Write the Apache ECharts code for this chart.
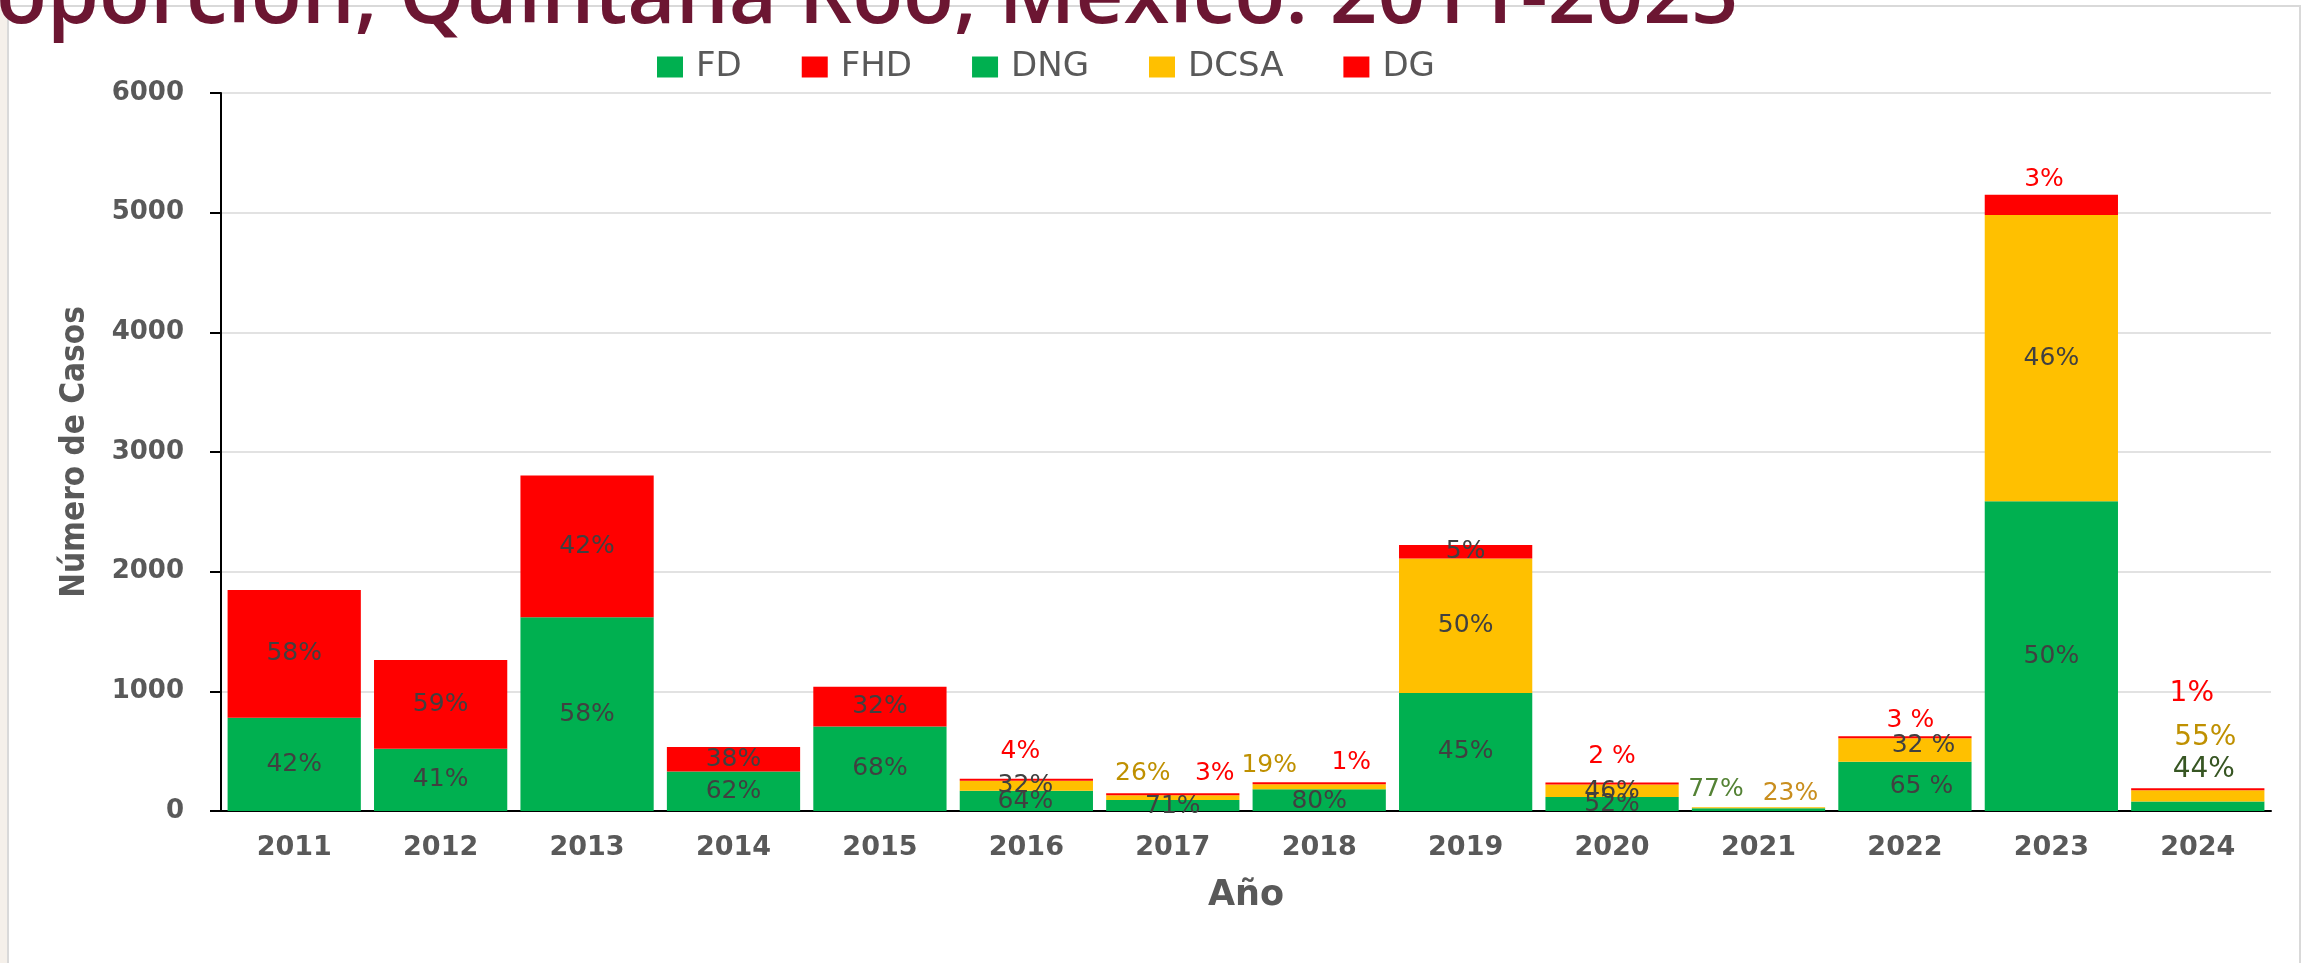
<!DOCTYPE html>
<html>
<head>
<meta charset="utf-8">
<script src="https://cdn.jsdelivr.net/npm/echarts@6/dist/echarts.min.js"></script>
<style>
  html, body { margin: 0; padding: 0; background: #fff; }
  #chart { width: 2307px; height: 963px; }
</style>
</head>
<body>
<div id="chart"></div>
<script>
/* Casos por clasificación y año — barras apiladas, etiquetas de proporción */
const years = ['2011', '2012', '2013', '2014', '2015', '2016', '2017',
               '2018', '2019', '2020', '2021', '2022', '2023', '2024'];
const seriesNames = ['FD', 'FHD', 'DNG', 'DCSA', 'DG'];

// casos; '-' = sin dato para esa clasificación
const fd   = [780, 520, 1620, 331, 706, '-', '-', '-', '-', '-', '-', '-', '-', '-'];
const fhd  = [1066, 742, 1183, 203, 333, '-', '-', '-', '-', '-', '-', '-', '-', '-'];
const dng  = ['-', '-', '-', '-', '-', 170, 92, 181, 987, 116, 24, 412, 2588, 79];
const dcsa = ['-', '-', '-', '-', '-', 82, 40, 42, 1122, 106, 8, 196, 2392, 94];
const dg   = ['-', '-', '-', '-', '-', 10, 4, 3, 114, 5, '-', 17, 170, 3];

// etiquetas de porcentaje tal como aparecen
const fdPct   = ['42%', '41%', '58%', '62%', '68%', '', '', '', '', '', '', '', '', ''];
const fhdPct  = ['58%', '59%', '42%', '38%', '32%', '', '', '', '', '', '', '', '', ''];
const dngPct  = ['', '', '', '', '', '64%', '71%', '80%', '45%', '52%', '77%', '65 %', '50%', '44%'];
const dcsaPct = ['', '', '', '', '', '32%', '26%', '19%', '50%', '46%', '23%', '32 %', '46%', '55%'];
const dgPct   = ['', '', '', '', '', '4%', '3%', '1%', '5%', '2 %', '', '3 %', '3%', '1%'];

const yMin = 0, yMax = 6000, yStep = 1000;

const GREEN = '#00B050', RED = '#FF0000', YELLOW = '#FFC000';
const GOLD = '#BF9000', INK = '#404040', AXIS_TXT = '#595959';

/* label nudges (dx, dy from segment centre), colour, size — Excel labels were dragged by hand */
const LBL = {
  'DNG|2016': [-1, 1], 'DCSA|2016': [-1, 0], 'DG|2016': [-6, -28, RED],
  'DNG|2017': [0, 1], 'DCSA|2017': [-30, -24, GOLD], 'DG|2017': [42, -21, RED],
  'DNG|2018': [0, 1], 'DCSA|2018': [-50, -21.5, GOLD], 'DG|2018': [32, -21, RED],
  'DCSA|2020': [0, 1], 'DG|2020': [0, -27, RED],
  'DNG|2021': [-42.5, -20, '#548235'], 'DCSA|2021': [32, -14, '#C98E1E'],
  'DNG|2022': [16.5, 0], 'DCSA|2022': [18.5, -4.7], 'DG|2022': [5.5, -17, RED],
  'DG|2023': [-7.4, -25.6, RED],
  'DNG|2024': [6, -37, '#375623', 28], 'DCSA|2024': [7.5, -58.6, GOLD, 28],
  'DG|2024': [-6, -96, RED, 28]
};
const nudge = (s, i) => LBL[seriesNames[s] + '|' + years[i]];

function items(name, vals, pcts) {
  return vals.map((v, i) => {
    if (v === '-') return '-';
    const lab = { formatter: pcts[i] };
    const t = LBL[name + '|' + years[i]];
    if (t && t[2]) lab.color = t[2];
    if (t && t[3]) lab.fontSize = t[3];
    return { value: v, label: lab };
  });
}

const baseLabel = {
  show: true, position: 'inside', color: INK,
  fontFamily: "'DejaVu Sans', Verdana, sans-serif", fontSize: 25
};

function barSeries(name, vals, pcts, color, extra) {
  return Object.assign({
    name, type: 'bar', stack: 'casos',
    barCategoryGap: '9%',
    itemStyle: { color },
    label: baseLabel,
    labelLayout: (p) => {
      const t = nudge(p.seriesIndex, p.dataIndex);
      return t ? { dx: t[0], dy: t[1], hideOverlap: false } : { hideOverlap: false };
    },
    data: items(name, vals, pcts)
  }, extra || {});
}

const chart = echarts.init(document.getElementById('chart'), null, { renderer: 'canvas' });
chart.setOption({
  backgroundColor: '#ffffff',
  animation: false,
  graphic: [
    { type: 'rect', z: -10, shape: { x: 0, y: 0, width: 8, height: 963 },
      style: { fill: '#F5F0EA' } },
    { type: 'rect', z: -9, shape: { x: 8, y: 6, width: 2292, height: 990 },
      style: { fill: 'none', stroke: '#D9D9D9', lineWidth: 2 } },
    { type: 'text', z: 100, x: -4, y: -1,
      style: {
        text: 'oporción, Quintana Roo, México. 2011-2025',
        font: "600 83.5px 'Open Sans', 'Noto Sans', sans-serif",
        fill: '#6C1632', verticalAlign: 'middle', align: 'left'
      } }
  ],
  legend: {
    left: 652, top: 45,
    icon: 'rect', itemWidth: 26, itemHeight: 21, itemGap: 60,
    textStyle: {
      color: AXIS_TXT, fontSize: 34, padding: [0, 0, 0, 8],
      fontFamily: "'DejaVu Sans', Verdana, sans-serif"
    },
    data: seriesNames
  },
  grid: { left: 221, right: 36, top: 93, bottom: 152 },
  xAxis: {
    type: 'category', data: years,
    name: 'Año', nameLocation: 'middle', nameGap: 67,
    nameTextStyle: {
      color: AXIS_TXT, fontSize: 35, fontWeight: 'bold',
      fontFamily: "'DejaVu Sans', Verdana, sans-serif"
    },
    axisLine: { lineStyle: { color: '#000', width: 2 } },
    axisTick: { length: 10, lineStyle: { color: '#000', width: 2 } },
    axisLabel: {
      color: AXIS_TXT, fontSize: 27, fontWeight: 'bold', margin: 23,
      fontFamily: "'DejaVu Sans', Verdana, sans-serif"
    }
  },
  yAxis: {
    type: 'value', min: yMin, max: yMax, interval: yStep,
    name: 'Número de Casos', nameLocation: 'middle', nameGap: 129,
    nameTextStyle: {
      color: AXIS_TXT, fontSize: 33, fontWeight: 'bold',
      fontFamily: "'DejaVu Sans Condensed', 'Liberation Sans', sans-serif"
    },
    axisLine: { show: true, lineStyle: { color: '#000', width: 2 } },
    axisTick: { show: true, length: 11, lineStyle: { color: '#000', width: 2 } },
    splitLine: { lineStyle: { color: '#D9D9D9', width: 1.5 } },
    axisLabel: {
      color: AXIS_TXT, fontSize: 26, fontWeight: 'bold', margin: 37,
      fontFamily: "'DejaVu Sans', Verdana, sans-serif",
      formatter: (v) => String(v)
    }
  },
  series: [
    barSeries('FD', fd, fdPct, GREEN),
    barSeries('FHD', fhd, fhdPct, RED),
    barSeries('DNG', dng, dngPct, GREEN),
    barSeries('DCSA', dcsa, dcsaPct, YELLOW),
    barSeries('DG', dg, dgPct, RED, { barMinHeight: 2 })
  ]
});
</script>
</body>
</html>
